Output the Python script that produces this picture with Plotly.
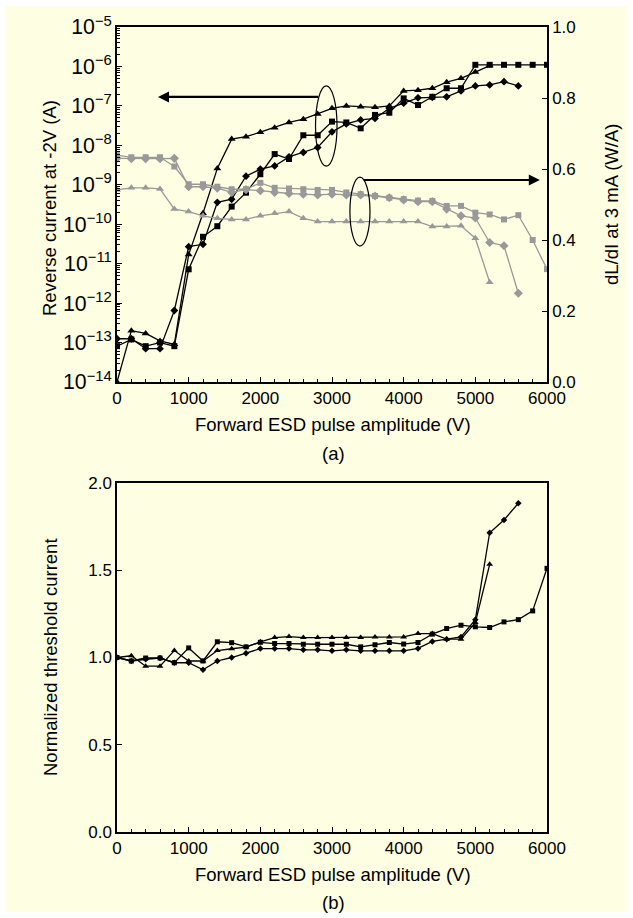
import plotly.graph_objects as go

# ---------------- data ----------------
volts = [0, 200, 400, 600, 800, 1000, 1200, 1400, 1600, 1800, 2000, 2200, 2400, 2600, 2800,
         3000, 3200, 3400, 3600, 3800, 4000, 4200, 4400, 4600, 4800, 5000, 5200, 5400, 5600, 5800, 6000]

# (a) reverse current at -2V (A), left log axis
ir_triangle = [1e-14, 2e-13, 1.7e-13, 1.1e-13, 9e-14, 1.7e-11, 1.9e-10, 2.6e-9, 1.44e-8, 1.66e-8, 2.15e-8,
               2.8e-8, 3.8e-8, 4.6e-8, 6.2e-8, 8.7e-8, 1.0e-7, 9.5e-8, 9.2e-8, 1.0e-7, 2.4e-7, 2.5e-7,
               2.8e-7, 4.0e-7, 5.0e-7, 7.2e-7, 1.05e-6]
ir_square = [8.1e-14, 1.2e-13, 8.1e-14, 1.0e-13, 8.1e-14, 7.2e-12, 4.8e-11, 8.9e-11, 2.8e-10, 6.3e-10, 1.85e-9,
             6.0e-9, 4.5e-9, 1.8e-8, 1.8e-8, 4.0e-8, 3.8e-8, 2.7e-8, 5.9e-8, 6.7e-8, 1.55e-7, 1.05e-7,
             1.7e-7, 2.8e-7, 2.8e-7, 1.1e-6, 1.1e-6, 1.1e-6, 1.1e-6, 1.1e-6, 1.1e-6]
ir_diamond = [1.25e-13, 1.25e-13, 7e-14, 7e-14, 6.5e-13, 2.7e-11, 3.1e-11, 3.6e-10, 4.3e-10, 1.65e-9, 2.5e-9,
              3.0e-9, 5.1e-9, 6.6e-9, 8.8e-9, 2.2e-8, 3.5e-8, 4.4e-8, 4.8e-8, 8.7e-8, 1.17e-7, 1.6e-7,
              1.65e-7, 1.7e-7, 2.4e-7, 3.2e-7, 3.4e-7, 4.1e-7, 3.2e-7]

# (a) dL/dI at 3 mA (W/A), right linear axis
de_square = [0.639, 0.633, 0.633, 0.633, 0.607, 0.557, 0.557, 0.550, 0.543, 0.543, 0.561, 0.547, 0.545,
             0.543, 0.541, 0.541, 0.534, 0.529, 0.524, 0.519, 0.515, 0.511, 0.510, 0.496, 0.496, 0.477,
             0.472, 0.458, 0.470, 0.400, 0.318]
de_diamond = [0.630, 0.629, 0.629, 0.629, 0.630, 0.550, 0.550, 0.546, 0.534, 0.542, 0.539, 0.534, 0.531,
              0.529, 0.527, 0.529, 0.527, 0.527, 0.524, 0.519, 0.513, 0.508, 0.508, 0.487, 0.468, 0.462,
              0.393, 0.384, 0.250]
de_triangle = [0.541, 0.547, 0.547, 0.544, 0.487, 0.480, 0.468, 0.461, 0.458, 0.458, 0.468, 0.475, 0.480,
               0.461, 0.452, 0.452, 0.452, 0.452, 0.452, 0.452, 0.452, 0.452, 0.438, 0.438, 0.440, 0.405,
               0.281]

# (b) normalized threshold current
th_triangle = [1.0, 1.01, 0.95, 0.95, 1.04, 0.98, 0.98, 1.04, 1.05, 1.06, 1.09, 1.114, 1.12, 1.114, 1.114,
               1.114, 1.114, 1.114, 1.118, 1.118, 1.118, 1.137, 1.137, 1.105, 1.105, 1.2, 1.534]
th_square = [1.0, 0.98, 0.997, 0.997, 0.97, 1.055, 0.98, 1.09, 1.085, 1.061, 1.087, 1.08, 1.08, 1.076,
             1.076, 1.076, 1.076, 1.061, 1.073, 1.086, 1.077, 1.086, 1.134, 1.166, 1.185, 1.176, 1.172,
             1.204, 1.217, 1.267, 1.511]
th_diamond = [1.0, 0.98, 0.99, 0.997, 0.97, 0.97, 0.93, 0.98, 1.0, 1.025, 1.051, 1.051, 1.051, 1.044,
              1.044, 1.038, 1.044, 1.038, 1.038, 1.038, 1.038, 1.052, 1.092, 1.105, 1.118, 1.217, 1.715,
              1.788, 1.884]

x_ticks = [0, 1000, 2000, 3000, 4000, 5000, 6000]
x_title = "Forward ESD pulse amplitude (V)"

# ---------------- style ----------------
W, H = 633, 918
BG = "#FEFEE2"
BLACK = "#000000"
GRAY = "#999999"
FONT = "Liberation Sans, Arial, sans-serif"
TITLE_SIZE = 18.5

def px_x(p):
    return p / W

def px_y(p):
    return 1 - p / H

fig = go.Figure()

def add(x, y, sym, color, xa, ya, size):
    fig.add_trace(go.Scatter(
        x=x[:len(y)], y=y, mode="lines+markers", xaxis=xa, yaxis=ya,
        line=dict(color=color, width=1.3),
        marker=dict(symbol=sym, size=size, color=color),
        showlegend=False, hoverinfo="skip"))

# gray dL/dI curves (right axis)
add(volts, de_triangle, "triangle-up", GRAY, "x", "y2", 7)
add(volts, de_square, "square", GRAY, "x", "y2", 6)
add(volts, de_diamond, "diamond", GRAY, "x", "y2", 7)
# black reverse current curves (left log axis)
add(volts, ir_triangle, "triangle-up", BLACK, "x", "y", 7)
add(volts, ir_square, "square", BLACK, "x", "y", 6)
add(volts, ir_diamond, "diamond", BLACK, "x", "y", 6)
# threshold current (panel b)
add(volts, th_triangle, "triangle-up", BLACK, "x2", "y3", 6)
add(volts, th_square, "square", BLACK, "x2", "y3", 5)
add(volts, th_diamond, "diamond", BLACK, "x2", "y3", 5)

tickfont = dict(family=FONT, size=17, color="black")
xdom = [px_x(117), px_x(547)]
axis_common = dict(showgrid=False, zeroline=False, linecolor="black", linewidth=1.5,
                   tickfont=tickfont, ticks="inside", ticklen=5, tickcolor="black",
                   automargin=False)

fig.update_layout(
    width=W, height=H, margin=dict(l=0, r=0, t=0, b=0, pad=0, autoexpand=False),
    paper_bgcolor="white", plot_bgcolor="rgba(0,0,0,0)",
    font=dict(family=FONT, size=17, color="black"),
    xaxis=dict(domain=xdom, anchor="y", range=[0, 6000], tickvals=x_ticks,
               minor=dict(dtick=200, ticks="inside", ticklen=3, tickcolor="black"),
               mirror=True, **axis_common),
    yaxis=dict(domain=[px_y(382), px_y(27)], anchor="x", type="log", range=[-14, -5],
               dtick=1, exponentformat="power", showexponent="all",
               minor=dict(ticks="inside", ticklen=3, tickcolor="black"),
               **axis_common),
    yaxis2=dict(overlaying="y", side="right", anchor="x", range=[0, 1], dtick=0.2,
                tickformat=".1f", **axis_common),
    xaxis2=dict(domain=xdom, anchor="y3", range=[0, 6000], tickvals=x_ticks,
                minor=dict(dtick=200, ticks="inside", ticklen=3, tickcolor="black"),
                mirror=True, **axis_common),
    yaxis3=dict(domain=[px_y(832), px_y(483)], anchor="x2", range=[0, 2], dtick=0.5,
                tickformat=".1f", mirror=True, **axis_common),
)

# background panel
fig.add_shape(type="rect", xref="paper", yref="paper", x0=px_x(6), x1=px_x(627),
              y0=px_y(912), y1=px_y(6), fillcolor=BG, line=dict(width=0), layer="below")

# ellipses and arrows (panel a)
fig.add_shape(type="circle", xref="x", yref="y2", x0=2770, x1=3070, y0=0.608, y1=0.834,
              line=dict(color="black", width=1.2))
fig.add_shape(type="circle", xref="x", yref="y2", x0=3250, x1=3530, y0=0.383, y1=0.577,
              line=dict(color="black", width=1.2))
fig.add_annotation(x=572, y=0.803, xref="x", yref="y2", ax=2830, ay=0.803, axref="x", ayref="y2",
                   text="", showarrow=True, arrowhead=2, arrowsize=1, arrowwidth=2.2, arrowcolor="black")
fig.add_annotation(x=5900, y=0.569, xref="x", yref="y2", ax=3420, ay=0.569, axref="x", ayref="y2",
                   text="", showarrow=True, arrowhead=2, arrowsize=1, arrowwidth=2.2, arrowcolor="black")

def label(text, x, y, angle=0, size=TITLE_SIZE):
    fig.add_annotation(text=text, x=px_x(x), y=px_y(y), xref="paper", yref="paper",
                       showarrow=False, textangle=angle, font=dict(family=FONT, size=size, color="black"),
                       xanchor="center", yanchor="middle")

label(x_title, 333, 424)
label("(a)", 333, 453)
label("Reverse current at -2V (A)", 50, 208, angle=-90)
label("dL/dI at 3 mA (W/A)", 612, 205, angle=-90)
label(x_title, 333, 874)
label("(b)", 333, 902)
label("Normalized threshold current", 50, 657, angle=-90)

fig.write_html("out.html")
